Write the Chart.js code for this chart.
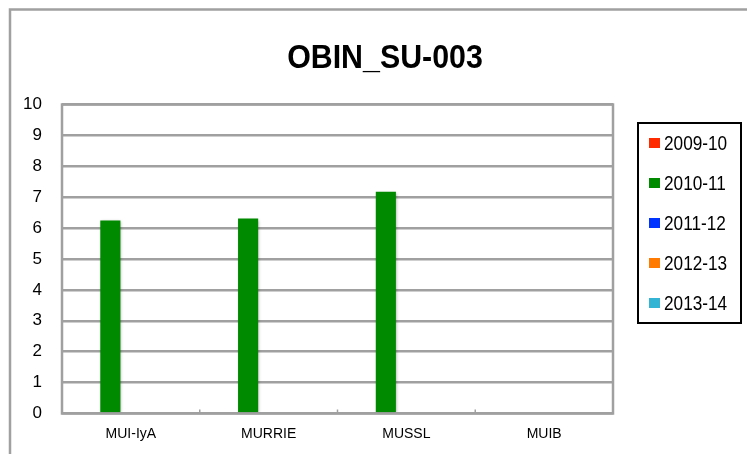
<!DOCTYPE html>
<html>
<head>
<meta charset="utf-8">
<script src="https://cdn.jsdelivr.net/npm/chart.js@4.4.1/dist/chart.umd.min.js"></script>
<style>
  html, body { margin: 0; padding: 0; background: #ffffff; }
  #wrap { width: 747px; height: 454px; position: relative; }
</style>
</head>
<body>
<div id="wrap"><canvas id="c" width="747" height="454"></canvas></div>
<script>
const chartTitle = "OBIN_SU-003";
const categories = ["MUI-IyA", "MURRIE", "MUSSL", "MUIB"];
const seriesNames = ["2009-10", "2010-11", "2011-12", "2012-13", "2013-14"];
const seriesColors = ["#ff2a00", "#008a00", "#0033ff", "#ff7a00", "#33b4d4"];
const values2009 = [null, null, null, null];
const values2010 = [6.25, 6.31, 7.18, null];
const values2011 = [null, null, null, null];
const values2012 = [null, null, null, null];
const values2013 = [null, null, null, null];
const yTicks = [0, 1, 2, 3, 4, 5, 6, 7, 8, 9, 10];

const FONT = "'Liberation Sans', Arial, sans-serif";
const GRID = "#a0a0a0";

const seriesValues = [values2009, values2010, values2011, values2012, values2013];
const datasets = seriesNames.map((name, i) => ({
  label: name,
  data: seriesValues[i],
  backgroundColor: seriesColors[i],
  borderWidth: 0,
  categoryPercentage: 0.745,
  barPercentage: 0.98
}));

const framePlugin = {
  id: 'frame',
  beforeDraw(chart) {
    const ctx = chart.ctx;
    ctx.save();
    ctx.fillStyle = '#ffffff';
    ctx.fillRect(0, 0, chart.width, chart.height);
    ctx.strokeStyle = '#a0a0a0';
    ctx.lineWidth = 2.5;
    ctx.strokeRect(10, 9.5, 900, 600);
    ctx.restore();
  },
  beforeDatasetsDraw(chart) {
    const ctx = chart.ctx;
    ctx.save();
    ctx.shadowColor = 'rgba(0,0,0,0.35)';
    ctx.shadowBlur = 3;
    ctx.shadowOffsetX = 1;
    ctx.shadowOffsetY = 1;
  },
  afterDatasetsDraw(chart) {
    chart.ctx.restore();
    const ctx = chart.ctx;
    const a = chart.chartArea;
    const xs = chart.scales.x;
    ctx.save();
    ctx.strokeStyle = GRID;
    ctx.lineWidth = 2.5;
    ctx.strokeRect(a.left, a.top, a.right - a.left, a.bottom - a.top);
    ctx.lineWidth = 1.5;
    for (let i = 0; i < categories.length - 1; i++) {
      const x = (xs.getPixelForValue(i) + xs.getPixelForValue(i + 1)) / 2;
      ctx.beginPath();
      ctx.moveTo(x, a.bottom);
      ctx.lineTo(x, a.bottom - 4);
      ctx.stroke();
    }
    ctx.restore();
  },
  afterDraw(chart) {
    const ctx = chart.ctx;
    ctx.save();
    // title
    ctx.fillStyle = '#000000';
    ctx.font = "bold 33px " + FONT;
    ctx.textAlign = 'center';
    ctx.textBaseline = 'alphabetic';
    ctx.save();
    ctx.translate(385, 67.5);
    ctx.scale(0.92, 1);
    ctx.fillText(chartTitle, 0, 0);
    ctx.restore();
    // legend box
    ctx.strokeStyle = '#000000';
    ctx.lineWidth = 2;
    ctx.strokeRect(638, 123, 103, 200);
    ctx.font = "20px " + FONT;
    ctx.textBaseline = 'middle';
    ctx.textAlign = 'left';
    chart.data.datasets.forEach((ds, i) => {
      const y = 143 + i * 40;
      ctx.fillStyle = ds.backgroundColor;
      ctx.fillRect(649, y - 5, 11, 10);
      ctx.fillStyle = '#000000';
      ctx.save();
      ctx.translate(664, y + 1);
      ctx.scale(0.86, 1);
      ctx.fillText(ds.label, 0, 0);
      ctx.restore();
    });
    ctx.restore();
  }
};

new Chart(document.getElementById('c'), {
  type: 'bar',
  data: { labels: categories, datasets: datasets },
  options: {
    responsive: false,
    animation: false,
    layout: { padding: { left: 10, right: 134, top: 104.5, bottom: 0 } },
    plugins: {
      legend: { display: false },
      tooltip: { enabled: false },
      title: { display: false }
    },
    scales: {
      x: {
        grid: { display: false, drawTicks: false },
        border: { display: false },
        ticks: { color: '#000000', font: { family: FONT, size: 14 }, padding: 12, maxRotation: 0 },
        afterFit(s) { s.height = 40.5; }
      },
      y: {
        min: 0,
        max: 10,
        afterBuildTicks(s) { s.ticks = yTicks.map(v => ({ value: v })); },
        grid: { color: GRID, lineWidth: 2.5, drawTicks: false },
        border: { display: false },
        ticks: { color: '#000000', font: { family: FONT, size: 17 }, padding: 20 },
        afterFit(s) { s.width = 52; }
      }
    }
  },
  plugins: [framePlugin]
});
</script>
</body>
</html>
